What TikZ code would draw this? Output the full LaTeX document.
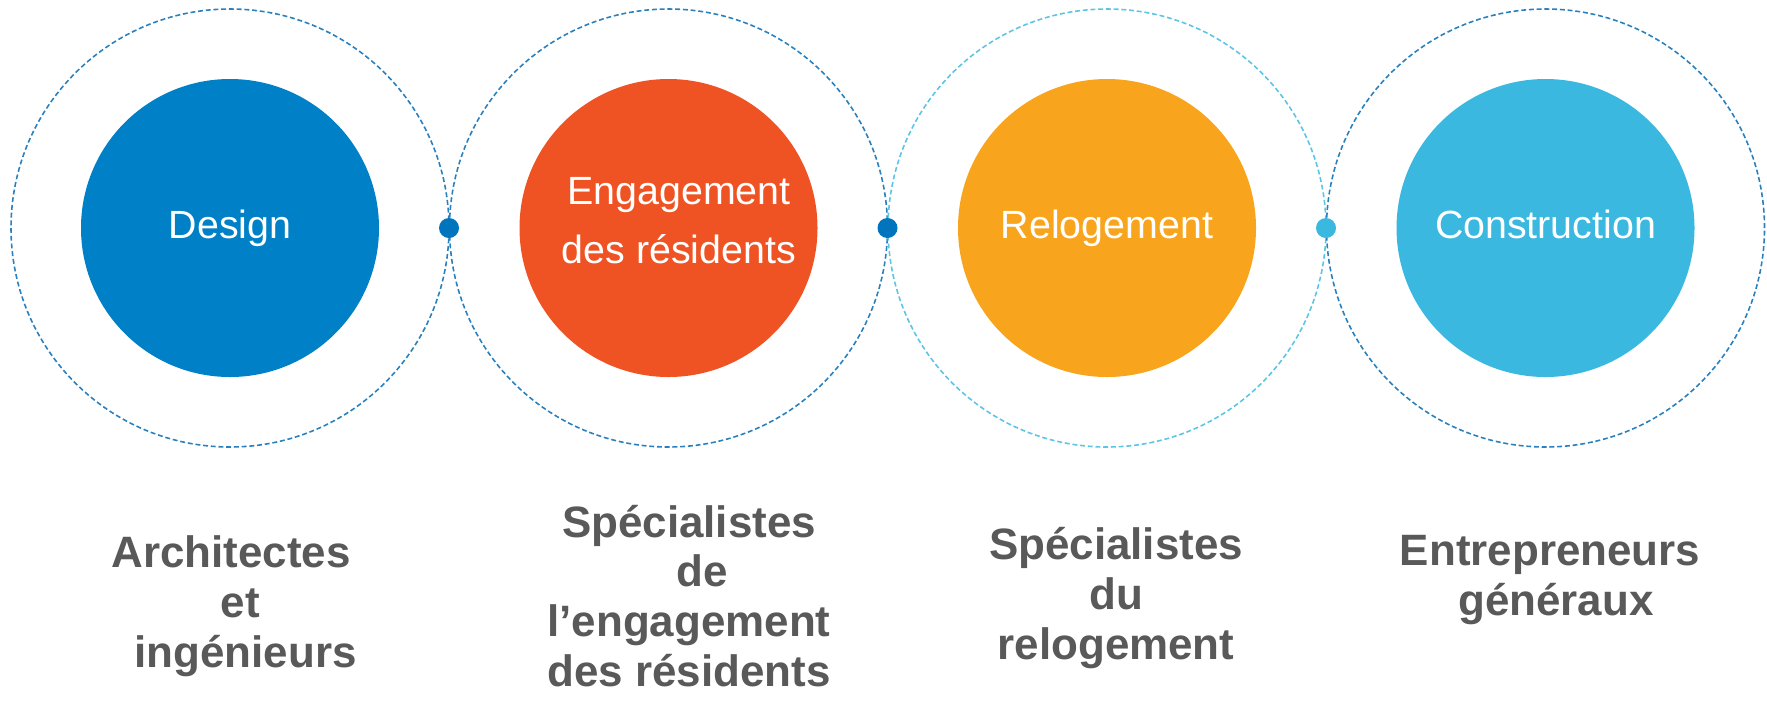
\documentclass[tikz,border=0pt]{standalone}
\usepackage{fontspec}
\setmainfont{Liberation Sans}
\usetikzlibrary{calc}
\definecolor{DesignClr}{RGB}{0,128,198}
\definecolor{EngageClr}{RGB}{239,83,35}
\definecolor{RelogClr}{RGB}{248,165,29}
\definecolor{BuildClr}{RGB}{58,184,224}
\definecolor{RingClr}{RGB}{41,128,190}
\definecolor{RingLightClr}{RGB}{92,196,228}
\definecolor{DotClr}{RGB}{0,117,190}
\definecolor{RoleClr}{RGB}{89,89,89}

\tikzset{
  ring/.style={circle,draw=RingClr,line width=0.45pt,dash pattern=on 1.4pt off 0.8pt,
    minimum size=4.38cm,inner sep=0pt,outer sep=0pt},
  disc/.style={circle,minimum size=2.98cm,inner sep=0pt,text=white,
    font=\fontsize{11.2}{16.7}\selectfont,text height=8.1pt,text depth=2.4pt},
  disctext/.style={align=center,anchor=base,text=white,inner sep=0pt,
    font=\fontsize{11.2}{16.7}\selectfont},
  joint/.style={circle,fill=DotClr,minimum size=0.2cm,inner sep=0pt},
  role/.style={align=center,anchor=base,inner sep=0pt,text=RoleClr,
    font=\fontsize{12.5}{14.1}\selectfont\bfseries}
}

\begin{document}
\begin{tikzpicture}
\useasboundingbox (0,0) rectangle (17.67,7);

% dashed rings
\node[ring] (ring1) at (2.30,4.72) {};
\node[ring] (ring2) at (6.685,4.72) {};
\node[ring,draw=RingLightClr] (ring3) at (11.07,4.72) {};
\node[ring] (ring4) at (15.455,4.72) {};

% joints between the rings
\node[joint] (joint12) at (ring1.east) {};
\node[joint] (joint23) at (ring2.east) {};
\node[joint,fill=BuildClr] (joint34) at (ring3.east) {};

% stages
\node[disc,fill=DesignClr] (design) at (ring1) {Design};
\node[disc,fill=EngageClr] (engage) at (ring2) {};
\node[disctext] (engagetxt) at (6.79,4.37) {Engagement\\des résidents};
\node[disc,fill=RelogClr] (relog) at (ring3) {Relogement};
\node[disc,fill=BuildClr] (build) at (ring4) {Construction};

% who does it (base = last line)
\node[role] (archi) at (2.31,0.33) {Architectes\\\hspace*{0.19cm}et\\\hspace*{0.29cm}ingénieurs};
\node[role] (engspec) at (6.89,0.14) {Spécialistes\\\hspace*{0.26cm}de\\l’engagement\\des résidents};
\node[role] (relspec) at (11.16,0.41) {Spécialistes\\du\\relogement};
\node[role] (contract) at (15.50,0.85) {Entrepreneurs\\\hspace*{0.12cm}généraux};

\end{tikzpicture}
\end{document}
